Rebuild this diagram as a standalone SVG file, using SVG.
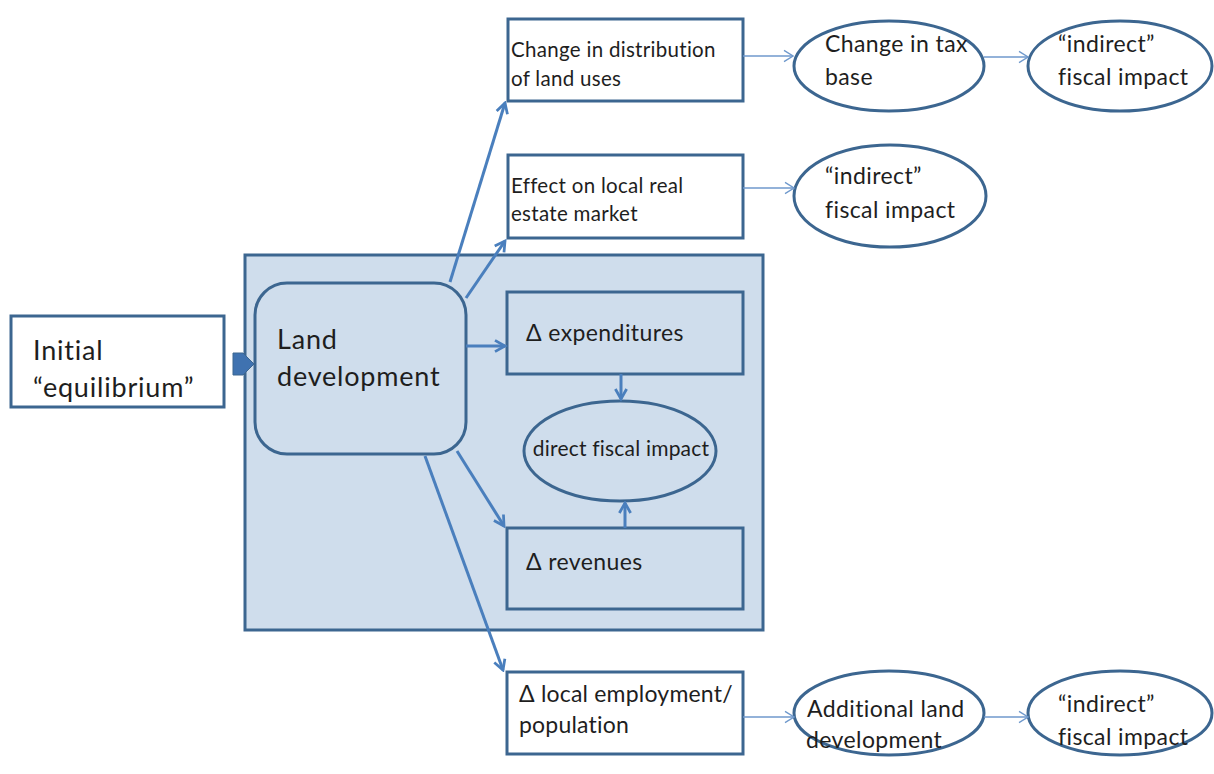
<svg xmlns="http://www.w3.org/2000/svg" width="1214" height="774" viewBox="0 0 1214 774">
  <style>
    .box { fill: #ffffff; stroke: #3c6690; stroke-width: 3; }
    .inner { fill: #cfddec; stroke: #3c6690; stroke-width: 3; }
    .t { font-family: Lato, "Open Sans", sans-serif; fill: #1e1e1e; }
    .big { font-size: 27px; letter-spacing: 0.8px; }
    .mid { font-size: 23px; letter-spacing: 0.4px; }
    .emp { font-size: 23px; letter-spacing: 0.2px; }
    .sm { font-size: 20.5px; letter-spacing: 0.3px; }
    .dir { font-size: 21px; letter-spacing: 0.2px; }
    .thick { fill: none; stroke: #4a7fbd; stroke-width: 3; marker-end: url(#head); }
    .thin { fill: none; stroke: #6f99cc; stroke-width: 1.5; marker-end: url(#headThin); }
  </style>
  <defs>
    <marker id="head" viewBox="0 0 12 12" refX="10" refY="6" markerWidth="5" markerHeight="5" orient="auto" markerUnits="strokeWidth">
      <path d="M2,1.5 L10,6 L2,10.5" fill="none" stroke="#4a7fbd" stroke-width="2.2" stroke-linejoin="miter"/>
    </marker>
    <marker id="headThin" viewBox="0 0 12 12" refX="11" refY="6" markerWidth="9" markerHeight="9" orient="auto" markerUnits="strokeWidth">
      <path d="M3,1 L11,6 L3,11" fill="none" stroke="#6f99cc" stroke-width="1.2"/>
    </marker>
  </defs>

  <!-- shaded container holding the direct-impact chain -->
  <g id="container">
    <rect class="inner" x="245" y="255" width="518" height="375"/>
  </g>

  <g id="initial">
    <rect class="box" x="11" y="316" width="213" height="91"/>
    <text class="t big" x="33" y="360">Initial</text>
    <text class="t big" x="33" y="397">“equilibrium”</text>
  </g>

  <g id="land-development">
    <rect class="inner" x="255" y="283" width="211" height="171" rx="32" ry="32"/>
    <text class="t big" x="277" y="349">Land</text>
    <text class="t big" x="277" y="386">development</text>
  </g>

  <g id="expenditures">
    <rect class="inner" x="507" y="292" width="236" height="82"/>
    <text class="t mid" x="526" y="341">Δ expenditures</text>
  </g>

  <g id="direct-impact">
    <ellipse class="inner" cx="620" cy="451" rx="96" ry="50"/>
    <text class="t dir" x="621" y="456" text-anchor="middle">direct fiscal impact</text>
  </g>

  <g id="revenues">
    <rect class="inner" x="507" y="528" width="236" height="81"/>
    <text class="t mid" x="526" y="570">Δ revenues</text>
  </g>

  <g id="land-use-distribution">
    <rect class="box" x="508" y="19" width="235" height="82"/>
    <text class="t sm" x="511" y="57">Change in distribution</text>
    <text class="t sm" x="511" y="86">of land uses</text>
  </g>

  <g id="real-estate">
    <rect class="box" x="508" y="155" width="235" height="83"/>
    <text class="t sm" x="511" y="193">Effect on local real</text>
    <text class="t sm" x="511" y="221">estate market</text>
  </g>

  <g id="tax-base">
    <ellipse class="box" cx="889" cy="66" rx="95" ry="45"/>
    <text class="t mid" x="825" y="52">Change in tax</text>
    <text class="t mid" x="825" y="85">base</text>
  </g>

  <g id="indirect-1">
    <ellipse class="box" cx="1120" cy="66" rx="92" ry="45"/>
    <text class="t mid" x="1058" y="52">“indirect”</text>
    <text class="t mid" x="1058" y="85">fiscal impact</text>
  </g>

  <g id="indirect-2">
    <ellipse class="box" cx="890" cy="196" rx="96" ry="51"/>
    <text class="t mid" x="825" y="184">“indirect”</text>
    <text class="t mid" x="825" y="218">fiscal impact</text>
  </g>

  <g id="employment">
    <rect class="box" x="507" y="672" width="236" height="82"/>
    <text class="t emp" x="519" y="702">Δ local employment/</text>
    <text class="t emp" x="519" y="733">population</text>
  </g>

  <g id="additional-development">
    <ellipse class="box" cx="889" cy="713" rx="95" ry="42"/>
    <text class="t mid" x="807" y="717">Additional land</text>
    <text class="t mid" x="806" y="748">development</text>
  </g>

  <g id="indirect-3">
    <ellipse class="box" cx="1120" cy="713" rx="92" ry="42"/>
    <text class="t mid" x="1058" y="712">“indirect”</text>
    <text class="t mid" x="1058" y="745">fiscal impact</text>
  </g>

  <g id="connectors">
    <!-- block arrow from the initial state into land development -->
    <path d="M233,353 L243,353 L254,364 L243,375 L233,375 Z" fill="#3f72b0" stroke="#3c6690" stroke-width="1"/>

    <line class="thick" x1="450" y1="282" x2="505" y2="103"/>
    <line class="thick" x1="466" y1="298" x2="505" y2="241"/>
    <line class="thick" x1="466" y1="346" x2="505" y2="346"/>
    <line class="thick" x1="457" y1="451" x2="504" y2="526"/>
    <line class="thick" x1="425" y1="456" x2="503" y2="670"/>
    <line class="thick" x1="621" y1="374" x2="621" y2="399"/>
    <line class="thick" x1="625" y1="528" x2="625" y2="503"/>

    <line class="thin" x1="743" y1="56" x2="793" y2="56"/>
    <line class="thin" x1="984" y1="57" x2="1028" y2="57"/>
    <line class="thin" x1="743" y1="188" x2="794" y2="188"/>
    <line class="thin" x1="743" y1="717" x2="794" y2="717"/>
    <line class="thin" x1="984" y1="717" x2="1028" y2="717"/>
  </g>
</svg>
